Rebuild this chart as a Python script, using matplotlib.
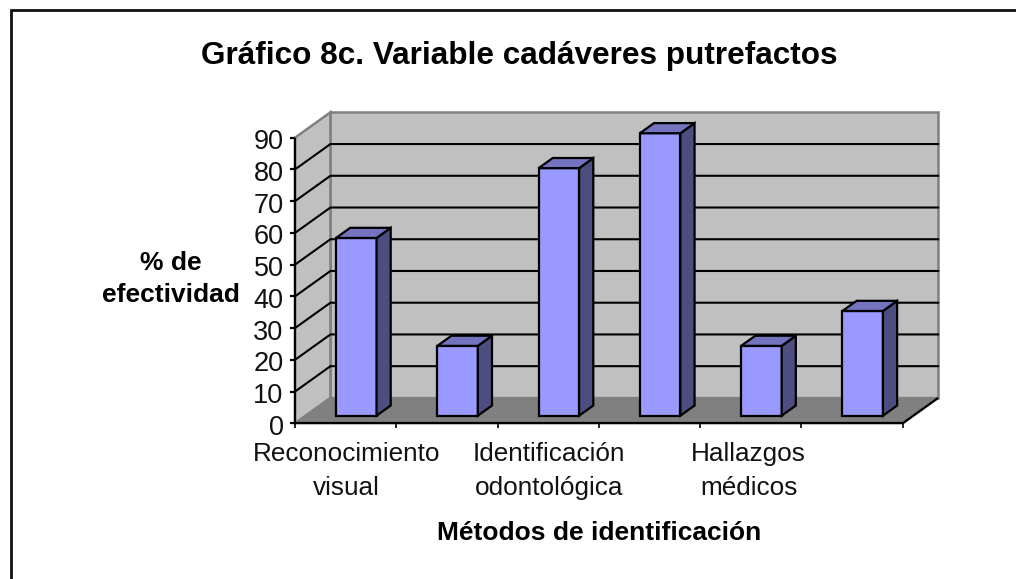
import numpy as np
import matplotlib
matplotlib.use('Agg')
import matplotlib.pyplot as plt
from matplotlib.lines import Line2D
from matplotlib.patches import Polygon

plt.rcParams['font.family'] = ['Liberation Sans', 'DejaVu Sans']

valores = [56, 22, 78, 89, 22, 33]
yticks = [0, 10, 20, 30, 40, 50, 60, 70, 80, 90]
etiquetas = ['Reconocimiento\nvisual', 'Identificación\nodontológica', 'Hallazgos\nmédicos']
etiqueta_pos = [0.51, 2.51, 4.48]
titulo = 'Gráfico 8c. Variable cadáveres putrefactos'
xlabel = 'Métodos de identificación'
ylabel = '% de\nefectividad'

W, H = 1016, 579
# profundidad del efecto 3d, en unidades de los ejes
DX = 0.35
DY = 8.0

def p(x, y, d=0):
    return (x + d * DX, y + d * DY)

fig = plt.figure(figsize=(W / 100, H / 100), dpi=100)
ax = fig.add_axes([295 / W, 1 - 423.3 / H, (902.7 - 295) / W, (423.3 - 137.7) / H])
ax.set_xlim(0, 6)
ax.set_ylim(0, 90)
ax.axis('off')

# marco exterior, solo arriba e izquierda (el resto queda cortado)
fig.add_artist(Line2D([11 / W, 11 / W, 1], [0, 1 - 9.5 / H, 1 - 9.5 / H], color='#111111', lw=2,
                      solid_joinstyle='miter'))

def cara(puntos, fc, ec='black', lw=1.6, z=2):
    ax.add_patch(Polygon(puntos, closed=True, fc=fc, ec=ec, lw=lw, zorder=z,
                         clip_on=False, joinstyle='miter'))

def linea(a, b, color='black', lw=1.6, z=3):
    ax.plot([a[0], b[0]], [a[1], b[1]], color=color, lw=lw, zorder=z, clip_on=False,
            solid_capstyle='butt')

# paredes y piso
cara([p(0, 0, 1), p(6, 0, 1), p(6, 90, 1), p(0, 90, 1)], '#c0c0c0', '#808080', 1.8, 1)
cara([p(0, 0), p(0, 0, 1), p(0, 90, 1), p(0, 90)], '#c0c0c0', '#808080', 1.8, 1)
cara([p(0, 0), p(6, 0), p(6, 0, 1), p(0, 0, 1)], '#808080', '#808080', 1.5, 1.2)

# lineas de division (la de 90 es el borde gris de la pared)
for v in yticks[1:-1]:
    a, b, c = p(0, v), p(0, v, 1), p(6, v, 1)
    ax.plot([a[0], b[0], c[0]], [a[1], b[1], c[1]], color='black', lw=1.5, zorder=1.1,
            clip_on=False, solid_joinstyle='miter')

# ejes
linea(p(0, 0), p(0, 90))
linea(p(0, 0), p(6, 0))
linea(p(6, 0), p(6, 0, 1))
for v in yticks:
    linea((-0.045, v), (0, v))
    ax.text(-0.113, v - 0.5, str(v), ha='right', va='center_baseline', fontsize=19.5, color='#111111')
for i in range(7):
    linea((i, 0), (i, -1.6), lw=1.2)

# barras
ancho = 0.4
d0, d1 = 0.3, 0.7
for i, v in enumerate(valores):
    x0 = i + 0.5 - ancho / 2
    x1 = x0 + ancho
    cara([p(x0, 0, d0), p(x1, 0, d0), p(x1, v, d0), p(x0, v, d0)], '#9999ff', z=4)
    cara([p(x1, 0, d0), p(x1, 0, d1), p(x1, v, d1), p(x1, v, d0)], '#4d4d80', z=4)
    cara([p(x0, v, d0), p(x1, v, d0), p(x1, v, d1), p(x0, v, d1)], '#7373bf', z=4)

for x, t in zip(etiqueta_pos, etiquetas):
    ax.text(x, -5.8, t, ha='center', va='top', fontsize=18.8, linespacing=1.55, color='#111111')

fig.text(519 / W, 1 - 56 / H, titulo, ha='center', va='center', fontsize=22.7, fontweight='bold')
fig.text(599 / W, 1 - 533 / H, xlabel, ha='center', va='center', fontsize=19, fontweight='bold')
fig.text(171 / W, 1 - 279 / H, ylabel, ha='center', va='center', fontsize=19, fontweight='bold', linespacing=1.45)

fig.savefig('out.png', dpi=100)
